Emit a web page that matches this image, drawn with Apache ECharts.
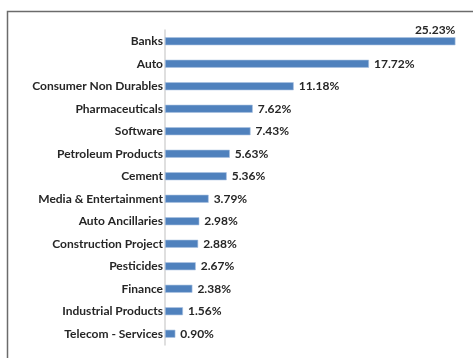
<!DOCTYPE html>
<html>
<head>
<meta charset="utf-8">
<script src="https://cdn.jsdelivr.net/npm/echarts@6/dist/echarts.min.js"></script>
<style>
  html, body { margin: 0; padding: 0; background: #fff; }
  #chart { width: 473px; height: 358px; }
</style>
</head>
<body>
<div id="chart"></div>
<script>
// Sector allocation (% of net assets), top to bottom
const sectors = [
  'Banks', 'Auto', 'Consumer Non Durables', 'Pharmaceuticals', 'Software',
  'Petroleum Products', 'Cement', 'Media & Entertainment', 'Auto Ancillaries',
  'Construction Project', 'Pesticides', 'Finance', 'Industrial Products',
  'Telecom - Services'
];
const weights = [
  25.23, 17.72, 11.18, 7.62, 7.43,
  5.63, 5.36, 3.79, 2.98,
  2.88, 2.67, 2.38, 1.56,
  0.90
];

const FONT = 'Lato, "Open Sans", sans-serif';
const chart = echarts.init(document.getElementById('chart'), null, { renderer: 'canvas' });

const seriesData = weights.map((v, i) => {
  const item = { value: v };
  if (i === 0) {
    // the longest bar carries its label above its end
    item.label = {
      position: ['100%', -1],
      align: 'right',
      verticalAlign: 'bottom'
    };
  }
  return item;
});

chart.setOption({
  animation: false,
  backgroundColor: '#ffffff',
  graphic: [{
    type: 'rect',
    shape: { x: 7.5, y: 11.5, width: 500, height: 400 },
    style: { fill: 'none', stroke: '#6b6b6b', lineWidth: 1.5 },
    silent: true
  }],
  grid: { left: 165, top: 30, width: 297, height: 315, containLabel: false },
  xAxis: {
    type: 'value',
    min: 0,
    max: 25.8,
    show: false
  },
  yAxis: {
    type: 'category',
    data: sectors,
    inverse: true,
    axisLine: { show: true, lineStyle: { color: '#d4d4d4', width: 1.5 } },
    axisTick: { show: false },
    axisLabel: {
      color: '#262626',
      fontFamily: FONT,
      fontWeight: 'bold',
      fontSize: 12,
      margin: 2
    },
    splitLine: { show: false }
  },
  series: [{
    type: 'bar',
    data: seriesData,
    barWidth: 8,
    itemStyle: { color: '#4f81bd', borderColor: '#a9c1e0', borderWidth: 0.6 },
    label: {
      show: true,
      position: 'right',
      distance: 5,
      color: '#262626',
      fontFamily: FONT,
      fontWeight: 'bold',
      fontSize: 12,
      formatter: p => p.value.toFixed(2) + '%'
    }
  }]
});
</script>
</body>
</html>
